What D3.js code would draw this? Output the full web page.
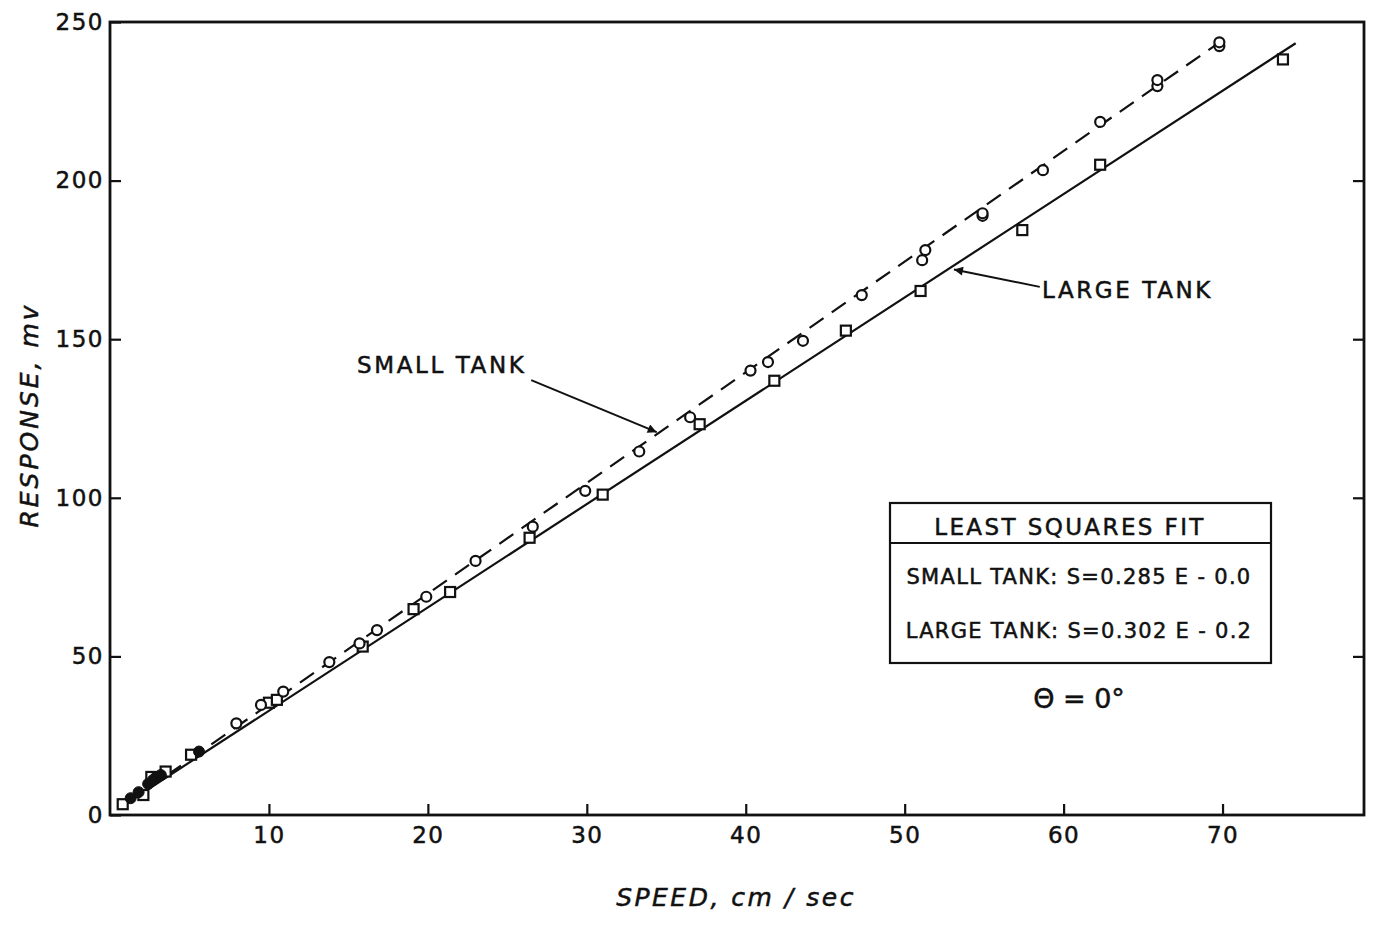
<!DOCTYPE html>
<html>
<head>
<meta charset="utf-8">
<script src="https://cdn.jsdelivr.net/npm/d3@7"></script>
<style>
  html, body { margin: 0; padding: 0; background: #fff; }
  svg { display: block; }
  text { font-family: "DejaVu Sans", sans-serif; fill: #111; stroke: #111; stroke-width: 0.5px; }
</style>
</head>
<body>
<svg id="chart" width="1373" height="938"></svg>
<script>
// ---- data ----
const xTickValues = [10, 20, 30, 40, 50, 60, 70];
const yTickValues = [0, 50, 100, 150, 200, 250];
const rightTickValues = [50, 100, 150, 200];

// small tank, open circles: [speed, response]
const smallTankSpeed = [7.95, 9.5, 10.9, 13.8, 15.7, 16.8, 19.9, 23.0, 26.6, 29.9, 33.3, 36.5, 40.3, 41.4, 43.6, 47.3, 51.1, 51.3, 54.9, 54.9, 58.7, 62.3, 65.9, 65.9, 69.8, 69.8];
const smallTankResp  = [28.9, 34.7, 38.9, 48.2, 54.1, 58.3, 68.8, 80.1, 90.9, 102.2, 114.6, 125.4, 140.1, 142.8, 149.5, 163.9, 174.9, 178.1, 188.9, 189.7, 203.3, 218.5, 229.8, 231.7, 242.4, 243.6];

// large tank, open squares
const largeTankSpeed = [0.8, 2.1, 2.6, 3.5, 5.1, 10.0, 10.5, 15.9, 19.1, 21.4, 26.4, 31.0, 37.1, 41.8, 46.3, 51.0, 57.4, 62.3, 73.8];
const largeTankResp  = [3.4, 6.3, 12.0, 13.7, 19.0, 35.4, 36.3, 53.1, 64.9, 70.3, 87.4, 101.0, 123.2, 136.9, 152.7, 165.2, 184.4, 205.0, 238.2];

// filled circles at low speed
const filledSpeed = [1.3, 1.8, 2.4, 2.7, 2.9, 3.2, 5.6];
const filledResp  = [5.3, 7.2, 9.8, 11.0, 11.9, 12.6, 20.0];

// least squares fit lines (end points as drawn)
const smallFitSpeed = [0.8, 69.7];
const smallFitResp  = [2.8, 243.2];
const largeFitSpeed = [0.8, 74.6];
const largeFitResp  = [2.9, 243.3];

const legendLines = ["SMALL TANK: S=0.285 E - 0.0", "LARGE TANK: S=0.302 E - 0.2"];

// ---- layout ----
const svg = d3.select("#chart");
const padL = 110, padR = 1364, padT = 22, padB = 815;
const x = d3.scaleLinear().domain([0, 78.9]).range([padL, padR]);
const y = d3.scaleLinear().domain([0, 250]).range([padB, padT]);

// frame
svg.append("rect")
  .attr("x", padL).attr("y", padT)
  .attr("width", padR - padL).attr("height", padB - padT)
  .attr("fill", "none").attr("stroke", "#111").attr("stroke-width", 2.8);

// x axis (ticks inward)
const xAxis = d3.axisBottom(x).tickValues(xTickValues).tickSizeInner(-11).tickSizeOuter(0).tickPadding(12);
const gx = svg.append("g").attr("transform", `translate(0,${padB})`).call(xAxis);
gx.select(".domain").remove();
gx.selectAll(".tick line").attr("stroke", "#111").attr("stroke-width", 2.2);
gx.selectAll(".tick text").style("font-family", "DejaVu Sans").style("font-size", "23px")
  .style("letter-spacing", "1.5px").attr("fill", "#111");

// y axis (ticks inward)
const yAxis = d3.axisLeft(y).tickValues(yTickValues).tickSizeInner(-11).tickSizeOuter(0).tickPadding(6);
const gy = svg.append("g").attr("transform", `translate(${padL},0)`).call(yAxis);
gy.select(".domain").remove();
gy.selectAll(".tick line").attr("stroke", "#111").attr("stroke-width", 2.2);
gy.selectAll(".tick text").style("font-family", "DejaVu Sans").style("font-size", "23px")
  .style("letter-spacing", "1.5px").attr("fill", "#111");

// right side inward ticks
const yAxisR = d3.axisRight(y).tickValues(rightTickValues).tickSizeInner(-11).tickSizeOuter(0).tickFormat("");
const gyr = svg.append("g").attr("transform", `translate(${padR},0)`).call(yAxisR);
gyr.select(".domain").remove();
gyr.selectAll(".tick line").attr("stroke", "#111").attr("stroke-width", 2.2);

// axis titles
svg.append("text")
  .attr("x", 736).attr("y", 906)
  .attr("text-anchor", "middle")
  .style("font-size", "25px").style("font-style", "italic").style("letter-spacing", "2.5px")
  .text("SPEED, cm / sec");

svg.append("text")
  .attr("transform", "translate(38,415) rotate(-90)")
  .attr("text-anchor", "middle")
  .style("font-size", "25px").style("font-style", "italic").style("letter-spacing", "3px")
  .text("RESPONSE, mv");

// fit lines
const line = d3.line().x(d => x(d[0])).y(d => y(d[1]));
svg.append("path")
  .datum(smallFitSpeed.map((s, i) => [s, smallFitResp[i]]))
  .attr("d", line).attr("fill", "none").attr("stroke", "#111")
  .attr("stroke-width", 2.2).attr("stroke-dasharray", "17,10");
svg.append("path")
  .datum(largeFitSpeed.map((s, i) => [s, largeFitResp[i]]))
  .attr("d", line).attr("fill", "none").attr("stroke", "#111")
  .attr("stroke-width", 2.2);

// markers
const sq = 10;
svg.append("g").selectAll("rect")
  .data(largeTankSpeed.map((s, i) => [s, largeTankResp[i]]))
  .join("rect")
  .attr("x", d => x(d[0]) - sq / 2).attr("y", d => y(d[1]) - sq / 2)
  .attr("width", sq).attr("height", sq)
  .attr("fill", "#fff").attr("stroke", "#111").attr("stroke-width", 2.2);

svg.append("g").selectAll("circle")
  .data(smallTankSpeed.map((s, i) => [s, smallTankResp[i]]))
  .join("circle")
  .attr("cx", d => x(d[0])).attr("cy", d => y(d[1])).attr("r", 5)
  .attr("fill", "#fff").attr("stroke", "#111").attr("stroke-width", 2.2);

svg.append("g").selectAll("circle")
  .data(filledSpeed.map((s, i) => [s, filledResp[i]]))
  .join("circle")
  .attr("cx", d => x(d[0])).attr("cy", d => y(d[1])).attr("r", 5.5)
  .attr("fill", "#111").attr("stroke", "#111").attr("stroke-width", 1);

// arrow marker
svg.append("defs").append("marker")
  .attr("id", "arrow").attr("viewBox", "0 0 10 10")
  .attr("refX", 10).attr("refY", 5)
  .attr("markerWidth", 17).attr("markerHeight", 9)
  .attr("markerUnits", "userSpaceOnUse")
  .attr("orient", "auto")
  .append("path").attr("d", "M0,0 L10,5 L0,10 z").attr("fill", "#111");

// annotations
svg.append("text").attr("x", 357).attr("y", 373)
  .style("font-size", "23px").style("letter-spacing", "2.6px").text("SMALL TANK");
svg.append("line")
  .attr("x1", x(26.5)).attr("y1", y(137.1)).attr("x2", x(34.4)).attr("y2", y(120.7))
  .attr("stroke", "#111").attr("stroke-width", 2).attr("marker-end", "url(#arrow)");

svg.append("text").attr("x", 1042).attr("y", 298)
  .style("font-size", "23px").style("letter-spacing", "2.6px").text("LARGE TANK");
svg.append("line")
  .attr("x1", x(58.5)).attr("y1", y(166.5)).attr("x2", x(53.1)).attr("y2", y(172.0))
  .attr("stroke", "#111").attr("stroke-width", 2).attr("marker-end", "url(#arrow)");

// legend box
const lg = svg.append("g");
lg.append("rect").attr("x", 890).attr("y", 503).attr("width", 381).attr("height", 160)
  .attr("fill", "#fff").attr("stroke", "#111").attr("stroke-width", 2.2);
lg.append("line").attr("x1", 890).attr("x2", 1271).attr("y1", 543).attr("y2", 543)
  .attr("stroke", "#111").attr("stroke-width", 2.2);
lg.append("text").attr("x", 1070).attr("y", 535).attr("text-anchor", "middle")
  .style("font-size", "23px").style("letter-spacing", "2.4px").text("LEAST SQUARES FIT");
lg.selectAll("text.row").data(legendLines).join("text")
  .attr("class", "row")
  .attr("x", 1079).attr("y", (d, i) => 584 + i * 54).attr("text-anchor", "middle")
  .style("font-size", "21px").style("letter-spacing", "1.3px").text(d => d);
lg.append("text").attr("x", 1079).attr("y", 708).attr("text-anchor", "middle")
  .style("font-size", "27px").text("Θ = 0°");
</script>
</body>
</html>
